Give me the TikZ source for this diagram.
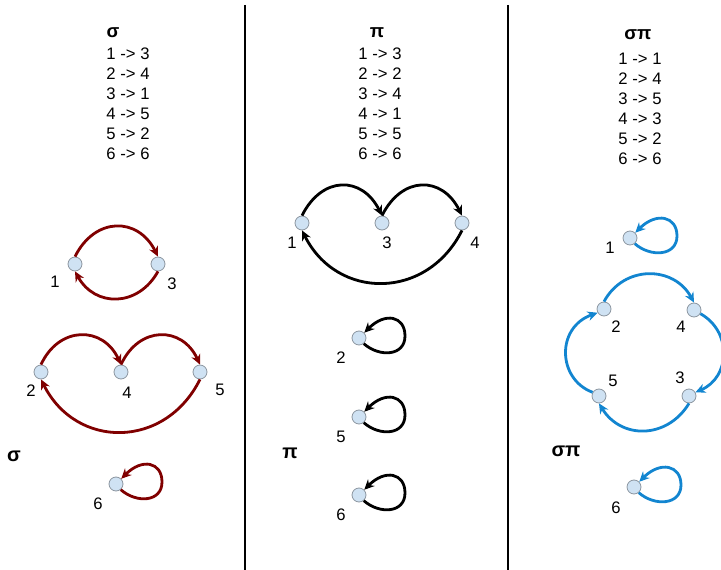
\documentclass[tikz,border=0pt]{standalone}
\usepackage{fontspec}
\setmainfont{Liberation Sans}
\usetikzlibrary{arrows.meta}

\definecolor{sigred}{RGB}{128,0,0}
\definecolor{prodblue}{RGB}{18,133,208}
\definecolor{dotfill}{RGB}{207,226,243}
\definecolor{dotline}{RGB}{140,150,160}

\begin{document}
\begin{tikzpicture}[x=0.75pt,y=-0.75pt,
  every node/.style={font=\fontsize{12.5}{15}\selectfont},
  dot/.style={circle, draw=dotline, line width=0.6pt, fill=dotfill, minimum size=10.5pt, inner sep=0pt},
  edge/.style={line width=2.1pt, -{Stealth[length=7.5pt,width=7pt]}},
  title/.style={font=\bfseries\fontsize{14}{16}\selectfont},
  side/.style={font=\bfseries\fontsize{15}{17}\selectfont},
  perm/.style={anchor=north, align=center, inner sep=0pt}]

\useasboundingbox (0,0) rectangle (721,570);

% column separators
\draw[line width=0.8pt] (245,5) -- (245,570);
\draw[line width=0.8pt] (508,5) -- (508,570);

% ======================================================================
% LEFT : SIGMA
% ======================================================================
\node[title] (sigtitle) at (113,33) {σ};
\node[perm] (siglist) at (128,48) {1 -> 3\\2 -> 4\\3 -> 1\\4 -> 5\\5 -> 2\\6 -> 6};

\node[dot] (s1) at (75,264) {};
\node[dot] (s3) at (158,264) {};
\node[dot] (s2) at (41,372) {};
\node[dot] (s4) at (121,372) {};
\node[dot] (s5) at (200,372) {};
\node[dot] (s6) at (116,484) {};
\node (s1lab) at (55,282) {1};
\node (s3lab) at (172,284) {3};
\node (s2lab) at (31,391) {2};
\node (s4lab) at (127,393) {4};
\node (s5lab) at (220,390) {5};
\node (s6lab) at (98,504) {6};
\node[side] (sigside) at (14,456) {σ};

\draw[edge, sigred] (s1.north) .. controls +(20,-40) and +(-20,-40) .. (s3.north);
\draw[edge, sigred] (s3.south) .. controls +(-20,36) and +(20,36) .. (s1.south);
\draw[edge, sigred] (s2.north) .. controls +(18,-39) and +(-18,-39) .. (s4.north);
\draw[edge, sigred] (s4.north) .. controls +(18,-39) and +(-18,-39) .. (s5.north);
\draw[edge, sigred] (s5.south) .. controls +(-35,70) and +(35,70) .. (s2.south);

% loop of the fixed point 6
\coordinate (s6r) at ([shift={(46,-2)}]s6.center);
\draw[edge, sigred] (s6.-50) .. controls +(16,14) and +(0,20) .. (s6r)
  .. controls +(0,-20) and +(21,-21) .. (s6.45);

% ======================================================================
% MIDDLE : PI
% ======================================================================
\node[title] (pititle) at (377,33) {π};
\node[perm] (pilist) at (380,48) {1 -> 3\\2 -> 2\\3 -> 4\\4 -> 1\\5 -> 5\\6 -> 6};

\node[dot] (p1) at (302,223) {};
\node[dot] (p3) at (382,223) {};
\node[dot] (p4) at (462,223) {};
\node (p1lab) at (292,243) {1};
\node (p3lab) at (387,243) {3};
\node (p4lab) at (475,243) {4};
\node[side] (piside) at (290,453) {π};

\draw[edge] (p1.north) .. controls +(20,-40) and +(-20,-40) .. (p3.north);
\draw[edge] (p3.north) .. controls +(20,-40) and +(-20,-40) .. (p4.north);
\draw[edge] (p4.south) .. controls +(-35,70) and +(35,70) .. (p1.south);

% fixed points of pi
\foreach \k/\y in {2/338,5/417,6/495}{
  \node[dot] (p\k) at (359,\y) {};
  \node (p\k lab) at (341,\y+20) {\k};
  \coordinate (p\k r) at ([shift={(46,-2)}]p\k.center);
  \draw[edge] (p\k.-50) .. controls +(16,14) and +(0,20) .. (p\k r)
    .. controls +(0,-20) and +(21,-21) .. (p\k.45);
}

% ======================================================================
% RIGHT : SIGMA PI
% ======================================================================
\node[title] (sptitle) at (638,35) {σπ};
\node[perm] (splist) at (640,53) {1 -> 1\\2 -> 4\\3 -> 5\\4 -> 3\\5 -> 2\\6 -> 6};

\node[dot] (c1) at (630,238) {};
\node[dot] (c2) at (604,309) {};
\node[dot] (c4) at (694,310) {};
\node[dot] (c5) at (599,396) {};
\node[dot] (c3) at (689,396) {};
\node[dot] (c6) at (634,487) {};
\node (c1lab) at (610,248) {1};
\node (c2lab) at (616,327) {2};
\node (c4lab) at (681,327) {4};
\node (c5lab) at (613,381) {5};
\node (c3lab) at (680,378) {3};
\node (c6lab) at (616,508) {6};
\node[side] (spside) at (566,451) {σπ};

\draw[edge, prodblue] (c2.north) .. controls +(20,-37) and +(-20,-37) .. (c4.north);
\draw[edge, prodblue] (c4.-30) .. controls +(32,18) and +(35,-15) .. (c3.30);
\draw[edge, prodblue] (c3.south) .. controls +(-22,36) and +(22,36) .. (c5.south);
\draw[edge, prodblue] (c5.150) .. controls +(-35,-13) and +(-42,15) .. (c2.210);

% loops of the fixed points 1 and 6
\foreach \k in {1,6}{
  \coordinate (c\k r) at ([shift={(47,-2)}]c\k.center);
  \draw[edge, prodblue] (c\k.-50) .. controls +(16,14) and +(0,20) .. (c\k r)
    .. controls +(0,-20) and +(21,-21) .. (c\k.45);
}

\end{tikzpicture}
\end{document}
